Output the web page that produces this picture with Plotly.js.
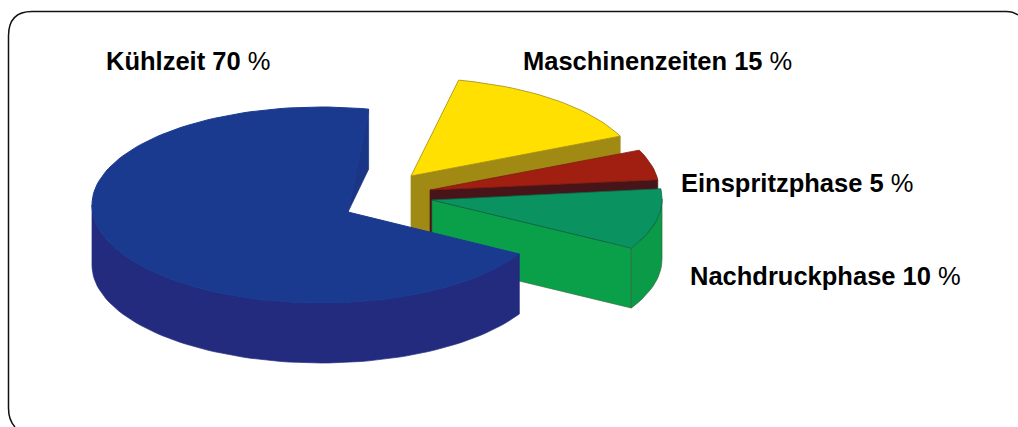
<!DOCTYPE html>
<html><head><meta charset="utf-8">
<script src="https://cdn.plot.ly/plotly-3.0.1.min.js"></script>
<style>html,body{margin:0;padding:0;background:#fff}#c{width:1018px;height:427px}</style>
</head><body><div id="c"></div>
<script>
// Data
const categories = ["Kühlzeit", "Nachdruckphase", "Einspritzphase", "Maschinenzeiten"];
const values = [70, 10, 5, 15];
const labelTexts = ["<b>Kühlzeit 70</b> %", "<b>Nachdruckphase 10</b> %", "<b>Einspritzphase 5</b> %", "<b>Maschinenzeiten 15</b> %"];

// Projection of the tilted, exploded pie
const RX = 229, RY = 98, DEPTH = 60, START = 78;
const centers = [[321,205],[433,199],[430,190],[411,176]];
const apexes  = [[348,212],[432,200],[430,190],[411,176]];
const topCols  = ["#1a3a90","#0a9360","#a01f10","#ffe000"];
const wallCols = ["#232b7e","#0aa04a","#47141a","#a08a14"];
const edgeCols = ["#1a3a90","#0a6a45","#7c1a10","#a08a14"];
const labelX = [104, 688, 679, 521];
const labelY = [61, 276, 183, 61];

const total = values.reduce((a,b)=>a+b,0);
let a0 = START; const spans = values.map(v=>{const s=[a0,a0+v/total*360];a0=s[1];return s;});
const pt = (c,t,dz=0)=>[c[0]+RX*Math.cos(t*Math.PI/180), c[1]-RY*Math.sin(t*Math.PI/180)+dz];
function arc(c,t0,t1,dz=0){const n=Math.max(2,Math.ceil(Math.abs(t1-t0)/2));const o=[];for(let i=0;i<=n;i++)o.push(pt(c,t0+(t1-t0)*i/n,dz));return o;}
const traces=[];
function poly(p,fill,line,name,w=0.7){
  p=p.concat([p[0]]);
  traces.push({type:"scatter",mode:"lines",x:p.map(q=>q[0]),y:p.map(q=>q[1]),fill:"toself",fillcolor:fill,
    line:{color:line||fill,width:w},name:name,hoverinfo:"name",showlegend:false});
}
function wedge(i){
  const c=centers[i],ap=apexes[i],[t0,t1]=spans[i],name=categories[i];
  if(i===0){
    const b=pt(c,t0);
    poly([ap,b,[b[0],b[1]+DEPTH]],"#1b3586",null,name);
    poly(arc(c,180,t1).concat(arc(c,t1,180,DEPTH)),wallCols[i],null,name);
  } else {
    const e=pt(c,t0);
    poly([ap,e,[e[0],e[1]+DEPTH],[ap[0],ap[1]+DEPTH]],wallCols[i],i===1?"#2f6a3a":wallCols[i],name);
    if(i===1) poly(arc(c,t0,360).concat(arc(c,360,t0,DEPTH)),"#0a9a48","#2f6a3a",name);
  }
  poly([ap].concat(arc(c,t0,t1)),topCols[i],edgeCols[i],name,i===0?1:0.8);
}
[3,2,1,0].forEach(wedge);

const annotations=labelTexts.map((t,i)=>({text:t,x:labelX[i],y:labelY[i],xref:"x",yref:"y",xanchor:"left",yanchor:"middle",
  showarrow:false,font:{family:"Liberation Sans, Arial, sans-serif",size:25.5,color:"#000"}}));

Plotly.newPlot("c",traces,{
  width:1018,height:427,margin:{l:0,r:0,t:0,b:0},paper_bgcolor:"#fff",plot_bgcolor:"#fff",showlegend:false,
  xaxis:{range:[0,1018],visible:false,fixedrange:true},
  yaxis:{range:[427,0],visible:false,fixedrange:true},
  annotations,
  shapes:[{type:"path",xref:"x",yref:"y",path:"M 1018 15 Q 1013 11.5 1006 11.5 L 32 11.5 Q 8.5 11.5 8.5 36 L 8.5 408 Q 8.5 420 15 427",
    line:{color:"#111",width:1.5},fillcolor:"rgba(0,0,0,0)"}]
},{displayModeBar:false,staticPlot:true});
</script></body></html>
